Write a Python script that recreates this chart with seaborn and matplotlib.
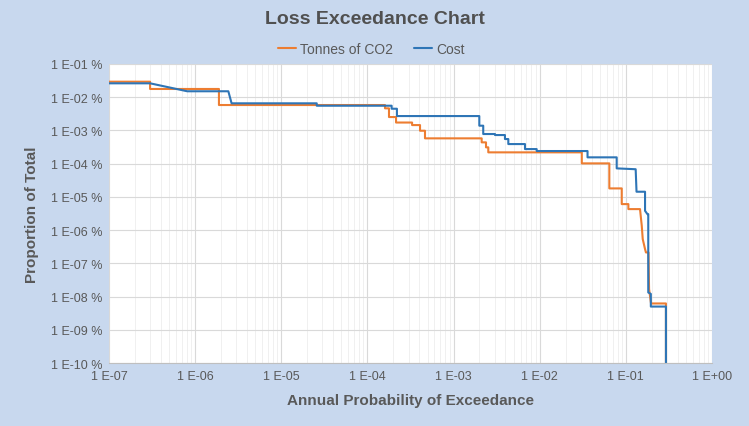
import math
import matplotlib.pyplot as plt
import matplotlib.ticker as mticker
import seaborn as sns
import pandas as pd

# Dữ liệu (xác suất vượt hàng năm, tỷ lệ % của tổng)
co2_prob = [1.0e-7, 3.0e-7, 3.0e-7, 1.89e-6, 1.89e-6, 1.60e-4, 1.60e-4, 1.78e-4, 1.78e-4,
            2.15e-4, 2.15e-4, 3.30e-4, 3.30e-4, 4.08e-4, 4.08e-4, 4.66e-4, 4.66e-4,
            2.12e-3, 2.12e-3, 2.38e-3, 2.38e-3, 2.53e-3, 2.53e-3, 3.08e-2, 3.08e-2,
            6.43e-2, 6.43e-2, 8.96e-2, 8.96e-2, 0.107, 0.107, 0.146, 0.153, 0.157,
            0.163, 0.167, 0.171, 0.183, 0.186, 0.196, 0.292, 0.292]
co2_pct = [2.93e-2, 2.93e-2, 1.77e-2, 1.77e-2, 5.82e-3, 5.82e-3, 4.63e-3, 4.63e-3, 2.53e-3,
           2.53e-3, 1.73e-3, 1.73e-3, 1.45e-3, 1.45e-3, 9.8e-4, 9.8e-4, 5.78e-4,
           5.78e-4, 4.38e-4, 4.38e-4, 3.10e-4, 3.10e-4, 2.19e-4, 2.19e-4, 1.02e-4,
           1.02e-4, 1.80e-5, 1.80e-5, 6.07e-6, 6.07e-6, 4.29e-6, 4.29e-6, 1.35e-6, 5.36e-7,
           3.53e-7, 2.68e-7, 2.13e-7, 2.13e-7, 1.67e-8, 6.2e-9, 6.2e-9, 1e-12]

cost_prob = [1.0e-7, 3.0e-7, 8.1e-7, 2.43e-6, 2.65e-6, 2.58e-5, 2.58e-5, 1.91e-4, 1.91e-4,
             2.20e-4, 2.20e-4, 1.99e-3, 1.99e-3, 2.21e-3, 2.21e-3, 3.03e-3, 3.03e-3,
             3.95e-3, 3.95e-3, 4.32e-3, 4.32e-3, 6.75e-3, 6.75e-3, 9.22e-3, 9.22e-3,
             3.59e-2, 3.59e-2, 7.83e-2, 7.83e-2, 0.130, 0.133, 0.167, 0.167, 0.178,
             0.182, 0.182, 0.195, 0.195, 0.292, 0.292]
cost_pct = [2.62e-2, 2.62e-2, 1.51e-2, 1.51e-2, 6.55e-3, 6.55e-3, 5.55e-3, 5.55e-3, 4.5e-3,
            4.5e-3, 2.71e-3, 2.71e-3, 1.39e-3, 1.39e-3, 7.8e-4, 7.8e-4, 7.27e-4,
            7.27e-4, 5.51e-4, 5.51e-4, 3.89e-4, 3.89e-4, 2.75e-4, 2.75e-4, 2.40e-4,
            2.40e-4, 1.55e-4, 1.55e-4, 7.21e-5, 6.8e-5, 1.43e-5, 1.43e-5, 3.81e-6, 3.03e-6,
            3.03e-6, 1.33e-8, 1.2e-8, 5.0e-9, 5.0e-9, 1e-12]

series_names = ['Tonnes of CO2', 'Cost']
series_colors = ['#ED7D31', '#2E75B6']

df = pd.concat([
    pd.DataFrame({'prob': co2_prob, 'pct': co2_pct, 'series': series_names[0]}),
    pd.DataFrame({'prob': cost_prob, 'pct': cost_pct, 'series': series_names[1]}),
])

sns.set_style('white')
plt.rcParams['font.family'] = ['Liberation Sans', 'DejaVu Sans']
grey = '#595959'


# Nhãn trục kiểu Excel: "1 E-05" và "1 E-05 %"
def expLabel(v):
    e = int(round(math.log10(v)))
    return '1 E%s%02d' % ('+' if e >= 0 else '-', abs(e))


fig = plt.figure(figsize=(7.49, 4.27), dpi=100, facecolor='#c8d8ee')
ax = fig.add_axes([0.1455, 0.1475, 0.8051, 0.7003])
ax.set_facecolor('white')

sns.lineplot(data=df, x='prob', y='pct', hue='series', palette=series_colors,
             sort=False, estimator=None, linewidth=1.5, ax=ax)

ax.set_xscale('log')
ax.set_yscale('log')
ax.set_xlim(1e-7, 1)
ax.set_ylim(1e-10, 1e-1)

ax.xaxis.set_major_locator(mticker.LogLocator(base=10, numticks=20))
ax.xaxis.set_minor_locator(mticker.LogLocator(base=10, subs=range(2, 10), numticks=20))
ax.yaxis.set_major_locator(mticker.LogLocator(base=10, numticks=20))
ax.yaxis.set_minor_locator(mticker.NullLocator())
ax.xaxis.set_major_formatter(mticker.FuncFormatter(lambda v, p: expLabel(v)))
ax.yaxis.set_major_formatter(mticker.FuncFormatter(lambda v, p: expLabel(v) + ' %'))

ax.grid(which='major', color='#d9d9d9', linewidth=0.8)
ax.grid(which='minor', axis='x', color='#eeeeee', linewidth=0.6)
ax.set_axisbelow(True)
ax.tick_params(which='both', length=0, labelsize=9, labelcolor=grey, pad=5)
for s in ['top', 'right', 'left']:
    ax.spines[s].set_visible(False)
ax.spines['bottom'].set_color('#bfbfbf')

ax.set_xlabel('Annual Probability of Exceedance', fontsize=11, fontweight='bold', color=grey, labelpad=8)
ax.set_ylabel('Proportion of Total', fontsize=11, fontweight='bold', color=grey, labelpad=8)
fig.text(0.5, 0.955, 'Loss Exceedance Chart', ha='center', va='center',
         fontsize=14, fontweight='bold', color='#505050')

leg = ax.legend(loc='lower center', bbox_to_anchor=(0.435, 1.0), ncol=2, frameon=False,
                fontsize=10, handlelength=1.3, handletextpad=0.3, columnspacing=1.5,
                borderaxespad=0.2)
for t in leg.get_texts():
    t.set_color(grey)

fig.savefig('out.png', dpi=100, facecolor=fig.get_facecolor())
